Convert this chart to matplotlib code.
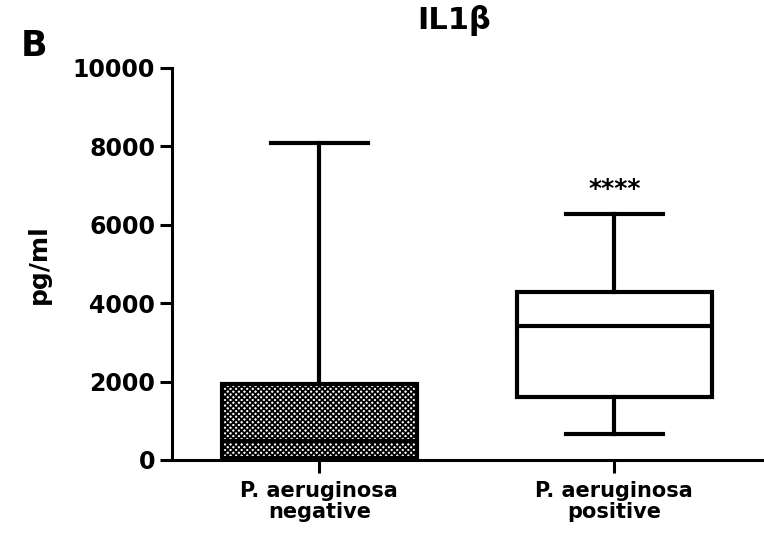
import matplotlib
matplotlib.use("Agg")
import matplotlib.pyplot as plt

plt.rcParams['font.family'] = ['DejaVu Sans']
plt.rcParams['font.weight'] = 'bold'
plt.rcParams['hatch.linewidth'] = 1.3

groups = ['P. aeruginosa\nnegative', 'P. aeruginosa\npositive']
mins = [0, 660]
q1s = [50, 1600]
medians = [490, 3420]
q3s = [1940, 4290]
maxs = [8090, 6260]
hatches = ['xxxxxx', None]
yticks = [0, 2000, 4000, 6000, 8000, 10000]

fig = plt.figure(figsize=(7.64, 5.38), dpi=100)
ax = fig.add_axes([0.225, 0.145, 0.772, 0.729])

stats = []
for i in range(len(groups)):
    stats.append({'whislo': mins[i], 'q1': q1s[i], 'med': medians[i],
                  'q3': q3s[i], 'whishi': maxs[i], 'fliers': []})

lw = 3
bp = ax.bxp(stats, positions=[1, 2], widths=0.66, patch_artist=True,
            showcaps=True,
            boxprops=dict(linewidth=lw, edgecolor='black', facecolor='white'),
            medianprops=dict(linewidth=lw, color='black'),
            whiskerprops=dict(linewidth=lw, color='black'),
            capprops=dict(linewidth=lw, color='black'))
for patch, h in zip(bp['boxes'], hatches):
    if h:
        patch.set_hatch(h)

ax.set_xlim(0.5, 2.5)
ax.set_ylim(0, 10000)
ax.set_yticks(yticks)
ax.set_yticklabels([str(t) for t in yticks], fontsize=17, fontweight='bold')
ax.set_xticks([1, 2])
ax.set_xticklabels(groups, fontsize=15, fontweight='bold', linespacing=1.1)
ax.set_ylabel('pg/ml', fontsize=18, fontweight='bold', labelpad=16)

for s in ['top', 'right']:
    ax.spines[s].set_visible(False)
for s in ['left', 'bottom']:
    ax.spines[s].set_linewidth(2.2)
ax.tick_params(axis='both', width=2.2, length=9, direction='out')
ax.tick_params(axis='y', pad=3)
ax.tick_params(axis='x', pad=6)

ax.text(2, maxs[1] + 350, '****', ha='center', va='bottom', fontsize=18)
fig.text(0.594, 0.962, 'IL1β', ha='center', va='center', fontsize=22, fontweight='bold')
fig.text(0.045, 0.915, 'B', ha='center', va='center', fontsize=25, fontweight='bold')

fig.savefig('out.png', dpi=100)
